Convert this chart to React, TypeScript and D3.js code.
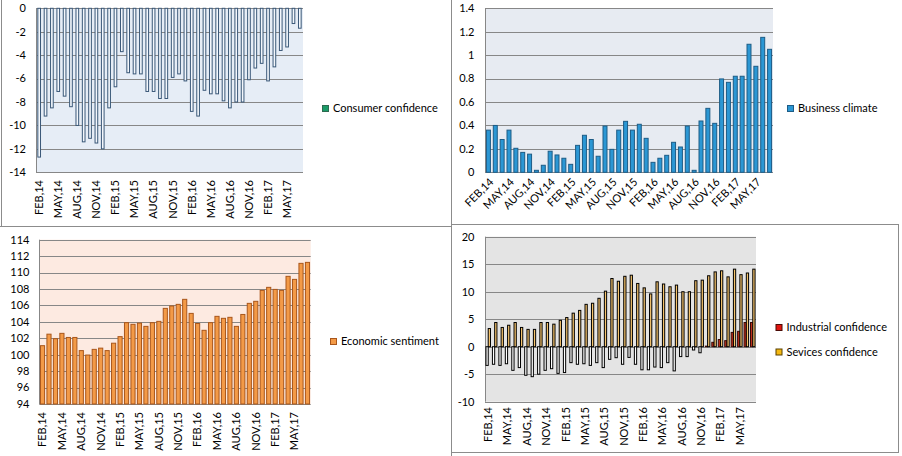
import React from "react";
import * as d3 from "d3";

const months = [
  "FEB,14","MAR,14","APR,14","MAY,14","JUN,14","JUL,14","AUG,14","SEP,14","OCT,14","NOV,14","DEC,14","JAN,15",
  "FEB,15","MAR,15","APR,15","MAY,15","JUN,15","JUL,15","AUG,15","SEP,15","OCT,15","NOV,15","DEC,15","JAN,16",
  "FEB,16","MAR,16","APR,16","MAY,16","JUN,16","JUL,16","AUG,16","SEP,16","OCT,16","NOV,16","DEC,16","JAN,17",
  "FEB,17","MAR,17","APR,17","MAY,17","JUN,17","JUL,17",
];

const consumer = [
  -12.7,-9.2,-8.5,-7.1,-7.5,-8.4,-10.0,-11.4,-11.1,-11.5,-12.0,-8.5,
  -6.7,-3.7,-5.5,-5.6,-5.6,-7.1,-7.1,-7.7,-7.7,-5.9,-5.6,-6.2,
  -8.8,-9.2,-7.0,-7.3,-7.3,-7.9,-8.5,-8.0,-8.0,-6.1,-5.1,-4.7,
  -6.2,-5.0,-3.6,-3.3,-1.3,-1.7,
];

const business = [
  0.36,0.40,0.28,0.36,0.205,0.17,0.155,0.017,0.06,0.18,0.148,0.12,
  0.068,0.23,0.316,0.28,0.137,0.395,0.196,0.36,0.435,0.36,0.41,0.29,
  0.085,0.12,0.145,0.256,0.216,0.395,0.017,0.438,0.546,0.418,0.797,0.768,
  0.82,0.82,1.093,0.905,1.152,1.05,
];

const sentiment = [
  101.1,102.5,101.95,102.6,102.1,102.1,100.5,99.96,100.65,100.8,100.5,101.4,
  102.2,103.9,103.7,103.85,103.45,103.9,104.06,105.64,105.93,106.13,106.74,105.03,
  103.8,102.97,103.9,104.67,104.43,104.55,103.45,104.9,106.25,106.5,107.83,108.2,
  107.95,107.83,109.54,109.17,111.12,111.24,
];

const industrial = [
  -3.4,-3.2,-3.4,-3.1,-4.3,-3.8,-5.2,-5.45,-5.0,-4.3,-4.0,-4.85,
  -4.7,-2.9,-3.2,-3.1,-3.4,-2.9,-3.8,-2.3,-2.0,-3.2,-1.95,-3.2,
  -4.2,-4.2,-3.7,-3.8,-2.9,-4.4,-1.8,-1.8,-0.6,-1.1,0.1,0.8,
  1.3,1.1,2.6,2.8,4.4,4.4,
];

const services = [
  3.3,4.4,3.5,3.9,4.4,3.5,3.15,3.15,4.4,4.4,4.1,4.8,
  5.3,6.1,6.6,7.7,7.9,8.8,10.1,12.4,11.9,12.8,13.0,11.5,
  10.7,9.6,11.8,11.4,10.9,11.2,10.0,10.0,12.0,12.1,12.9,13.6,
  13.8,12.7,14.1,13.1,13.4,14.1,
];

const consumerTicks = [0,-2,-4,-6,-8,-10,-12,-14];
const businessTicks = [0,0.2,0.4,0.6,0.8,1,1.2,1.4];
const sentimentTicks = [94,96,98,100,102,104,106,108,110,112,114];
const confTicks = [-10,-5,0,5,10,15,20];

const FONT = "Lato, 'Open Sans', sans-serif";
const GRID = "#878787";

type Box = { x0: number; x1: number; y0: number; y1: number };

function Frame({ box, bg, y, ticks, tickX, fmt }: { box: Box; bg: string; y: d3.ScaleLinear<number, number>; ticks: number[]; tickX: number; fmt?: (v: number) => string }) {
  return (
    <g>
      <rect x={box.x0} y={box.y0} width={box.x1 - box.x0} height={box.y1 - box.y0} fill={bg} />
      {ticks.map((t) => (
        <g key={t}>
          <line x1={box.x0} x2={box.x1} y1={Math.round(y(t)) + 0.5} y2={Math.round(y(t)) + 0.5} stroke={GRID} strokeWidth={1} />
          <text x={tickX} y={y(t)} dy="0.35em" textAnchor="end" fontSize={11} fontFamily={FONT} fill="#000">
            {fmt ? fmt(t) : String(t)}
          </text>
        </g>
      ))}
      <line x1={Math.round(box.x0) + 0.5} x2={Math.round(box.x0) + 0.5} y1={box.y0} y2={box.y1} stroke={GRID} strokeWidth={1} />
    </g>
  );
}

function XLabels({ x, yTop, rot }: { x: d3.ScaleBand<string>; yTop: number; rot: number }) {
  return (
    <g>
      {months.map((m, i) =>
        i % 3 === 0 ? (
          <text
            key={m}
            transform={rot === -90 ? `translate(${(x(m) ?? 0) + x.bandwidth() / 2},${yTop}) rotate(-90)` : `translate(${(x(m) ?? 0) + x.bandwidth() / 2 + 3},${yTop}) rotate(-45)`}
            dy="0.35em"
            textAnchor="end"
            fontSize={11}
            fontFamily={FONT}
            fill="#000"
          >
            {m}
          </text>
        ) : null
      )}
    </g>
  );
}

function Legend({ items, x, y }: { items: { label: string; color: string; stroke: string }[]; x: number; y: number }) {
  return (
    <g>
      {items.map((it, i) => (
        <g key={it.label} transform={`translate(${x},${y + i * 24.5})`}>
          <rect x={0.5} y={0.5} width={6} height={6} fill={it.color} stroke={it.stroke} strokeWidth={1} />
          <text x={11} y={3.5} dy="0.35em" fontSize={11} fontFamily={FONT} fill="#000">{it.label}</text>
        </g>
      ))}
    </g>
  );
}

function band(box: Box, p: number) {
  return d3.scaleBand<string>().domain(months).range([box.x0, box.x1]).paddingInner(p).paddingOuter(p / 2);
}

export default function App() {
  // Top-left: consumer confidence
  const b1: Box = { x0: 36, x1: 303, y0: 8.3, y1: 172.3 };
  const x1s = band(b1, 0.58);
  const y1s = d3.scaleLinear().domain([-14, 0]).range([b1.y1, b1.y0]);

  // Top-right: business climate
  const b2: Box = { x0: 485, x1: 773, y0: 8.3, y1: 172.3 };
  const x2s = band(b2, 0.42);
  const y2s = d3.scaleLinear().domain([0, 1.4]).range([b2.y1, b2.y0]);

  // Bottom-left: economic sentiment
  const b3: Box = { x0: 39.3, x1: 310.7, y0: 239.7, y1: 404 };
  const x3s = band(b3, 0.36);
  const y3s = d3.scaleLinear().domain([94, 114]).range([b3.y1, b3.y0]);

  // Bottom-right: industrial & services
  const b4: Box = { x0: 485, x1: 756, y0: 236.7, y1: 401.7 };
  const x4s = band(b4, 0.3);
  const inner = d3.scaleBand<string>().domain(["ind", "serv"]).range([0, x4s.bandwidth()]);
  const y4s = d3.scaleLinear().domain([-10, 20]).range([b4.y1, b4.y0]);

  return (
    <>
      <style>{"body{margin:0;background:#fff}"}</style>
      <svg width={902} height={456} style={{ display: "block" }}>
        <rect width={902} height={456} fill="#fff" />

        {/* panel borders */}
        <line x1={1.5} x2={1.5} y1={0} y2={227} stroke="#8c8c8c" />
        <line x1={0} x2={451} y1={226.5} y2={226.5} stroke="#8c8c8c" />
        <line x1={451.5} x2={451.5} y1={0} y2={456} stroke="#8c8c8c" />
        <line x1={452} x2={899} y1={224.5} y2={224.5} stroke="#8c8c8c" />
        <line x1={898.5} x2={898.5} y1={224} y2={453} stroke="#8c8c8c" />
        <line x1={452} x2={899} y1={452.5} y2={452.5} stroke="#8c8c8c" />

        {/* Consumer confidence */}
        <Frame box={b1} bg="#e6edf6" y={y1s} ticks={consumerTicks} tickX={26} />
        {months.map((m, i) => (
          <rect key={m} x={x1s(m)} y={y1s(0)} width={x1s.bandwidth()} height={y1s(consumer[i]) - y1s(0)} fill="#f3f7fc" stroke="#3a5878" strokeWidth={1} />
        ))}
        <XLabels x={x1s} yTop={180} rot={-90} />
        <Legend x={322} y={105} items={[{ label: "Consumer confidence", color: "#1b9b68", stroke: "#2e6a50" }]} />

        {/* Business climate */}
        <Frame box={b2} bg="#e7ebf2" y={y2s} ticks={businessTicks} tickX={474.5} fmt={(v) => d3.format("~g")(v)} />
        {months.map((m, i) => (
          <rect key={m} x={x2s(m)} y={y2s(business[i])} width={x2s.bandwidth()} height={y2s(0) - y2s(business[i])} fill="#2b97d4" stroke="#1d5c86" strokeWidth={1} />
        ))}
        <XLabels x={x2s} yTop={180} rot={-45} />
        <Legend x={787} y={105} items={[{ label: "Business climate", color: "#2b97d4", stroke: "#1d5c86" }]} />

        {/* Economic sentiment */}
        <Frame box={b3} bg="#fdeae1" y={y3s} ticks={sentimentTicks} tickX={29.5} />
        {months.map((m, i) => (
          <rect key={m} x={x3s(m)} y={y3s(sentiment[i])} width={x3s.bandwidth()} height={y3s(94) - y3s(sentiment[i])} fill="#f39a47" stroke="#a9561b" strokeWidth={1} />
        ))}
        <XLabels x={x3s} yTop={412} rot={-90} />
        <Legend x={330} y={338} items={[{ label: "Economic sentiment", color: "#f39a47", stroke: "#a9561b" }]} />

        {/* Industrial & services confidence */}
        <Frame box={b4} bg="#e4e4e4" y={y4s} ticks={confTicks} tickX={474.5} />
        {months.map((m, i) => {
          const xi = (x4s(m) ?? 0) + (inner("ind") ?? 0);
          const xs = (x4s(m) ?? 0) + (inner("serv") ?? 0);
          const v = industrial[i];
          const s = services[i];
          return (
            <g key={m}>
              <rect x={xi} y={y4s(Math.max(0, v))} width={inner.bandwidth()} height={Math.abs(y4s(v) - y4s(0))} fill={v < 0 ? "#ffffff" : "#c0301e"} stroke={v < 0 ? "#000" : "#3a0a05"} strokeWidth={1} />
              <rect x={xs} y={y4s(s)} width={inner.bandwidth()} height={y4s(0) - y4s(s)} fill="#f6c46c" stroke="#000" strokeWidth={1} />
            </g>
          );
        })}
        <XLabels x={x4s} yTop={407} rot={-90} />
        <Legend
          x={775.5}
          y={324}
          items={[
            { label: "Industrial confidence", color: "#e0150f", stroke: "#4a0a05" },
            { label: "Sevices confidence", color: "#f5b911", stroke: "#5a4000" },
          ]}
        />
      </svg>
    </>
  );
}
